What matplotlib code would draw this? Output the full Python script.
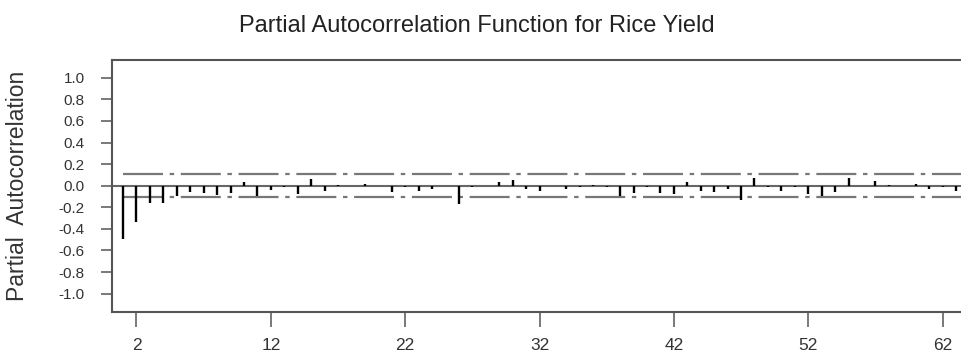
import numpy as np
import matplotlib.pyplot as plt

plt.rcParams['font.family'] = ['Liberation Sans', 'DejaVu Sans']

# lags and partial autocorrelation values
lags = list(range(1, 64))
pacf = [-0.49, -0.34, -0.16, -0.16, -0.10, -0.055, -0.07, -0.085, -0.07, 0.035,
        -0.10, -0.04, -0.015, -0.08, 0.06, -0.045, 0.005, 0.0, 0.015, 0.0,
        -0.055, -0.015, -0.045, -0.03, 0.0, -0.17, -0.015, 0.0, 0.03, 0.055,
        -0.03, -0.045, 0.0, -0.035, -0.015, 0.01, -0.015, -0.10, -0.065, -0.015,
        -0.065, -0.075, 0.03, -0.045, -0.055, -0.035, -0.13, 0.075, -0.015, -0.045,
        -0.015, -0.075, -0.10, -0.055, 0.075, 0.0, 0.045, 0.01, 0.0, 0.02,
        -0.035, -0.015, -0.045]
conf = 0.107
xticks = [2, 12, 22, 32, 42, 52, 62]
yticks = np.round(np.arange(-1.0, 1.01, 0.2), 1)

fig = plt.figure(figsize=(9.61, 3.53), dpi=100)
ax = fig.add_axes([0.1169, 0.117, 0.8831, 0.713])

grey = '#666666'
ax.axhline(0, color=grey, lw=1.5, zorder=1)
ax.vlines(lags, 0, pacf, color='black', lw=1.7, zorder=3)
dash = (0, (18, 3, 2, 3))
ax.plot([lags[0], 64], [conf, conf], color='#777777', lw=1.6, ls=dash, zorder=2)
ax.plot([lags[0], 64], [-conf, -conf], color='#777777', lw=1.6, ls=dash, zorder=2)

ax.set_xlim(0.204, 63.37)
ax.set_ylim(-1.167, 1.164)
ax.set_xticks(xticks)
ax.set_yticks(yticks)
ax.set_yticklabels([f"{abs(v) if v == 0 else v:.1f}" for v in yticks])

for side in ['left', 'bottom', 'top']:
    ax.spines[side].set_color('#555555')
    ax.spines[side].set_linewidth(1.5)
ax.spines['right'].set_visible(False)

ax.tick_params(axis='y', length=8, width=1.1, color='#555555', pad=12,
               labelsize=11, labelcolor='#333333')
ax.tick_params(axis='x', length=11, width=1.1, color='#555555', pad=8,
               labelsize=12.5, labelcolor='#333333')

ax.set_ylabel("Partial  Autocorrelation", fontsize=16.5, color='#333333')
ax.yaxis.set_label_coords(-0.098, 0.5)
fig.text(0.496, 0.927, "Partial Autocorrelation Function for Rice Yield",
         ha='center', va='center', fontsize=17, color='#222222')

fig.savefig('out.png', dpi=100)
